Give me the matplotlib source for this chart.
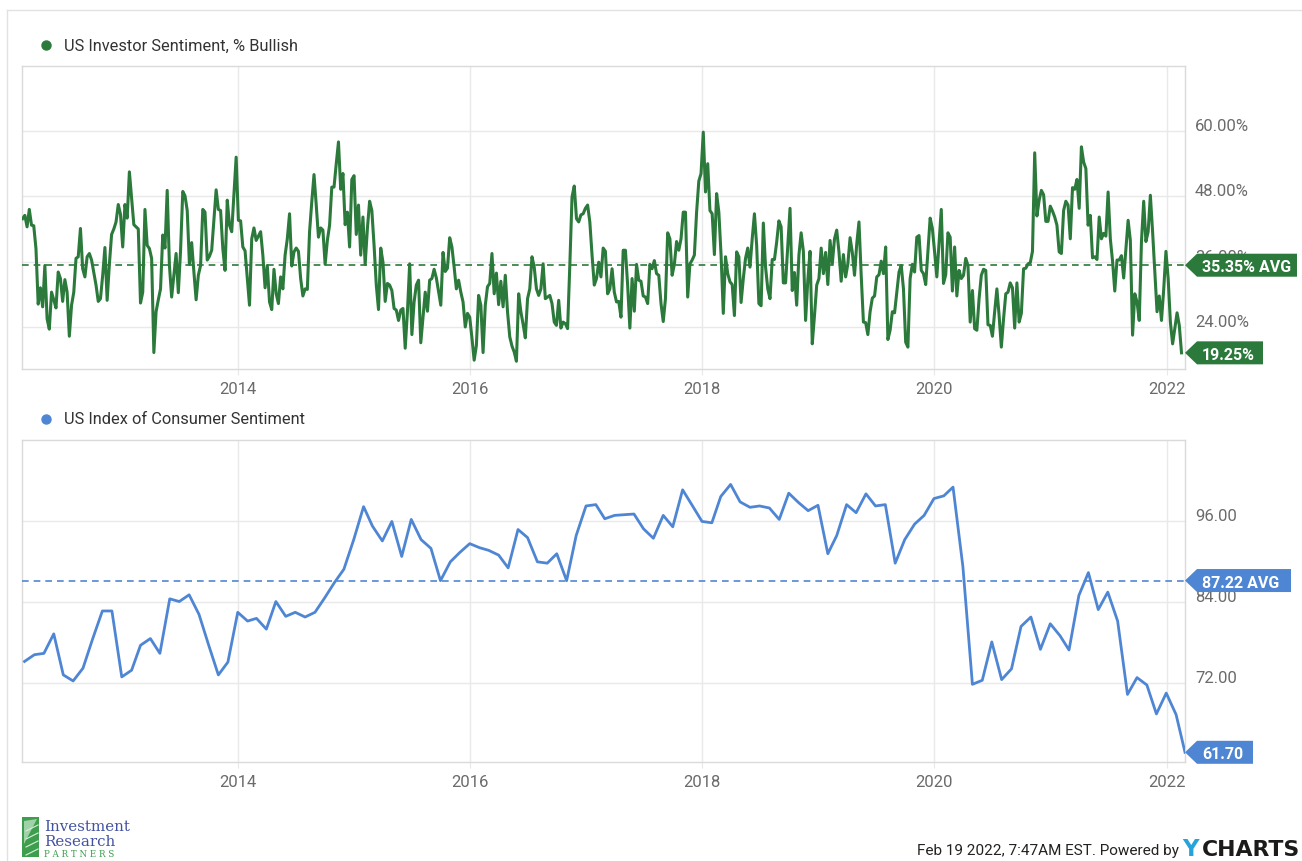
import numpy as np
import pandas as pd
import matplotlib
matplotlib.use("Agg")
import matplotlib.pyplot as plt
from matplotlib import transforms
from matplotlib.patches import Polygon, Rectangle
from matplotlib.lines import Line2D

plt.rcParams['font.family'] = ['Roboto', 'DejaVu Sans']

# ---------------- data ----------------
bullish_start = "2012-02-23"          # weekly AAII survey readings
bullish_pct = [
    43.9, 44.5, 42.4, 45.6, 42.7, 42.6, 38.4, 28.2, 31.2, 27.7,
    35.3, 25.5, 23.6, 30.4, 29.0, 27.5, 34.1, 32.9, 28.7, 32.7,
    30.4, 22.3, 28.0, 30.4, 36.6, 36.9, 42.1, 34.7, 33.2, 36.9,
    37.5, 36.3, 34.0, 31.7, 28.7, 29.2, 33.5, 38.6, 28.9, 35.5,
    41.0, 42.0, 43.3, 46.5, 44.7, 38.7, 46.5, 44.0, 52.5, 47.6,
    42.8, 42.4, 42.0, 28.4, 30.4, 45.6, 39.0, 38.4, 36.6, 19.3,
    26.8, 29.0, 31.0, 40.9, 38.5, 49.1, 35.3, 29.5, 33.5, 37.5,
    30.3, 38.0, 48.9, 48.1, 45.4, 35.5, 39.5, 34.1, 29.0, 33.5,
    35.3, 45.6, 45.1, 36.3, 37.0, 38.1, 43.6, 49.2, 45.6, 45.4,
    38.4, 34.4, 47.3, 42.7, 41.5, 48.2, 55.2, 43.6, 43.5, 38.7,
    38.0, 32.9, 28.0, 40.2, 42.2, 39.9, 40.7, 41.5, 37.2, 31.2,
    35.3, 28.6, 27.2, 34.6, 30.1, 28.3, 33.2, 31.0, 37.2, 40.2,
    44.8, 35.2, 37.8, 38.5, 37.9, 32.9, 29.7, 31.0, 30.9, 41.5,
    47.0, 52.0,
    46.4, 40.5, 42.2, 41.8, 35.5, 39.9, 42.7, 49.7, 49.7, 54.0,
    58.0, 49.3, 52.2, 42.8, 45.1, 38.7, 51.1, 51.8, 41.0, 46.4,
    37.2, 44.2, 35.5, 42.1, 47.1, 45.4, 39.0, 31.7, 27.2, 38.5,
    35.9, 28.7, 32.0, 31.7, 30.7, 27.4, 27.1, 25.2, 27.1, 27.4,
    20.1, 26.8, 35.6, 22.6, 28.6, 31.7, 32.6, 21.1, 25.8, 30.4,
    26.9, 32.6, 32.9, 34.6, 33.0, 30.5, 28.0, 37.7, 34.2, 34.8,
    40.4, 38.7, 35.0, 31.0, 32.6, 30.4, 28.6, 24.0, 26.5, 25.8,
    22.0, 17.9, 20.6, 29.8, 28.0, 19.3, 28.0, 31.4, 32.0, 37.5,
    30.1, 33.9, 28.1, 32.4, 27.7, 33.5, 26.8, 22.2, 20.5, 19.4,
    17.7, 30.1, 26.8, 24.5, 22.0, 29.2, 31.0, 36.9, 35.0, 31.0,
    29.8, 31.0, 35.6, 29.2, 29.5, 29.8, 28.3, 24.9, 24.3, 28.9,
    23.8, 24.9, 24.6, 23.7, 35.3, 47.9, 49.9, 43.9, 43.3, 44.6,
    44.8, 45.8, 46.4, 43.3, 37.2, 31.7, 32.9, 35.9, 33.2, 38.5,
    37.9, 30.1, 31.0, 34.7, 30.4, 28.6, 28.7, 25.8, 38.1, 38.1,
    31.7, 23.8, 32.9, 26.9, 35.5, 32.6, 32.4, 29.7, 29.5, 28.3,
    35.5, 34.7, 36.2, 33.8, 33.5, 28.3, 25.0, 29.2, 41.3, 40.2,
    33.5, 35.5, 39.7, 38.1, 40.2, 45.1, 45.1, 29.5, 35.6, 36.3,
    37.2, 45.1, 50.8, 52.2, 59.8, 48.8, 54.0, 45.4, 44.8, 37.3,
    48.5, 45.1, 37.2, 26.5, 36.9, 33.8, 32.3, 31.8, 26.1, 37.8,
    36.9, 28.5, 32.9, 36.6, 38.5, 35.0, 40.2, 44.8, 39.0, 28.3,
    27.9, 43.1, 35.0, 31.0, 29.2, 36.4, 36.4, 39.6, 43.5, 42.4,
    32.1, 32.1, 39.0, 45.8, 30.7, 34.0, 28.0, 37.2, 41.3, 37.9,
    25.2, 32.6, 37.9, 20.9, 26.1, 31.7, 32.9, 38.5, 33.8, 37.7,
    31.8, 39.9, 35.6, 40.2, 41.8, 37.8, 32.4, 37.3, 33.2, 35.6,
    40.4, 37.7, 33.5, 39.3, 43.3, 33.5, 24.9, 24.8, 22.6, 26.8,
    29.3, 29.7, 33.2, 33.6, 36.1, 33.8, 38.7, 21.7, 23.4, 26.8,
    26.6,
    30.4, 34.1, 35.3, 31.0, 21.2, 20.3, 32.9, 35.5, 34.1, 40.5,
    40.8, 34.4, 33.8, 31.8, 37.8, 44.0, 42.1, 37.8, 33.2, 39.5,
    45.6, 32.0, 33.6, 41.3, 40.5, 30.6, 38.7, 29.7, 34.4, 32.9,
    33.5, 36.6, 35.3, 24.9, 30.7, 23.7, 23.4, 29.2, 33.5, 34.6,
    34.4, 24.4, 24.3, 22.3, 26.8, 31.0, 26.1, 20.3, 25.5, 30.1,
    30.4, 32.1, 31.2, 23.8, 32.1, 24.9, 26.5, 34.7, 34.8, 35.6,
    35.8, 37.9, 56.0, 44.4, 47.3, 49.1, 48.3, 43.4, 43.4, 46.2,
    45.3, 44.2, 42.7, 37.8, 37.5, 45.4, 47.1, 46.4, 40.2, 49.6,
    49.3, 51.1, 45.8, 57.1, 54.3, 53.1, 42.7, 44.5, 36.7, 36.9,
    36.4, 44.2, 40.2, 41.2, 40.7, 48.8, 40.2, 36.1, 30.6, 36.3,
    36.3, 37.1, 33.0, 38.4, 43.6, 39.9, 22.5, 30.1, 28.6, 25.2,
    39.7, 47.1, 39.7, 41.5, 48.2, 41.5, 34.0, 26.8, 29.7, 25.2,
    30.9, 37.9, 32.9, 24.9, 20.9, 23.8, 26.6, 24.3, 19.25,
]
bullish_avg = 35.35

sentiment_start = "2012-02-29"        # monthly, plotted at month end
consumer_sentiment = [
    75.2, 76.2, 76.4, 79.3, 73.2, 72.3, 74.2, 78.5, 82.7, 82.7, 72.9,
    73.9, 77.6, 78.6, 76.4, 84.5, 84.1, 85.1, 82.2, 77.7, 73.2, 75.1, 82.5,
    81.2, 81.6, 80.0, 84.1, 81.9, 82.5, 81.8, 82.5, 84.6, 86.9, 88.9, 93.3,
    98.2, 95.3, 93.1, 96.0, 90.8, 96.3, 93.3, 92.0, 87.2, 90.0, 91.4, 92.7,
    92.1, 91.7, 91.0, 89.1, 94.8, 93.6, 90.0, 89.8, 91.2, 87.2, 93.9, 98.3,
    98.5, 96.4, 96.9, 97.0, 97.1, 94.9, 93.5, 96.9, 95.2, 100.7, 98.4, 96.0,
    95.8, 99.7, 101.5, 98.9, 98.1, 98.3, 98.0, 96.3, 100.2, 98.8, 97.6, 98.4,
    91.2, 93.9, 98.5, 97.3, 100.1, 98.3, 98.5, 89.8, 93.3, 95.6, 96.9, 99.4,
    99.8, 101.1, 89.3, 71.8, 72.4, 78.1, 72.5, 74.1, 80.4, 81.8, 77.0, 80.8,
    79.0, 76.9, 85.0, 88.4, 82.9, 85.5, 81.2, 70.3, 72.8, 71.7, 67.4, 70.5,
    67.3, 61.7,
]
sentiment_avg = 87.22

bullish_yticks = [24, 36, 48, 60]
sentiment_yticks = [72, 84, 96]
year_ticks = [2014, 2016, 2018, 2020, 2022]
x_range = ("2012-02-22", "2022-02-28")

bullish_title = "US Investor Sentiment, % Bullish"
sentiment_title = "US Index of Consumer Sentiment"
footer_text = "Feb 19 2022, 7:47AM EST. Powered by"

# ---------------- style ----------------
GREEN = "#2B7A3B"
BLUE = "#4F86D4"
GRID = "#e9e9e9"
FRAME = "#dadada"
TICK = "#6b6b6b"

W, H = 1302, 862
fig = plt.figure(figsize=(W / 100, H / 100), dpi=100)
fig.patch.set_facecolor("white")


def px_rect(x0, y0, x1, y1):
    return [x0 / W, 1 - y1 / H, (x1 - x0) / W, (y1 - y0) / H]


ax1 = fig.add_axes(px_rect(22.3, 67, 1185, 370))
ax2 = fig.add_axes(px_rect(22.3, 441, 1185, 763))

bull_dates = pd.date_range(bullish_start, periods=len(bullish_pct), freq="7D")
try:
    sent_dates = pd.date_range(sentiment_start, periods=len(consumer_sentiment), freq="ME")
except ValueError:
    sent_dates = pd.date_range(sentiment_start, periods=len(consumer_sentiment), freq="M")

ax1.plot(bull_dates, bullish_pct, color=GREEN, lw=2.2, solid_joinstyle="round", zorder=4)
ax1.axhline(bullish_avg, color=GREEN, lw=1.2, ls=(0, (4, 3)), zorder=3)
ax2.plot(sent_dates, consumer_sentiment, color=BLUE, lw=2.0, solid_joinstyle="round", zorder=4)
ax2.axhline(sentiment_avg, color=BLUE, lw=1.2, ls=(0, (4, 3)), zorder=3)


def style(ax, yticks, ylim, fmt):
    ax.set_xlim(pd.Timestamp(x_range[0]), pd.Timestamp(x_range[1]))
    ax.set_ylim(*ylim)
    ax.set_yticks(yticks)
    ax.set_xticks([pd.Timestamp(f"{y}-01-01") for y in year_ticks])
    ax.set_xticklabels([str(y) for y in year_ticks])
    ax.grid(True, color=GRID, lw=1)
    ax.set_axisbelow(True)
    ax.tick_params(axis="y", left=False, right=False, labelleft=False, labelright=False)
    ax.tick_params(axis="x", length=4, color=GRID, labelsize=12, labelcolor=TICK, pad=5)
    for s in ax.spines.values():
        s.set_color(FRAME)
        s.set_linewidth(1)
    lab_tr = transforms.offset_copy(ax.get_yaxis_transform(), fig=fig, x=10, y=1, units="dots")
    for v in yticks:
        ax.text(1.0, v, fmt(v), transform=lab_tr, ha="left", va="baseline",
                fontsize=12, color=TICK, clip_on=False, zorder=3)


style(ax1, bullish_yticks, (16.28, 71.95), lambda v: f"{v:.2f}%")
style(ax2, sentiment_yticks, (60.26, 108.1), lambda v: f"{v:.2f}")


def tag(ax, val, text, color, width):
    anchor = transforms.ScaledTranslation(1.0, val, ax.get_yaxis_transform())
    tr = transforms.Affine2D().scale(fig.dpi / 100.0) + anchor
    h = 11.5
    verts = [(0, 0), (12, h), (12 + width, h), (12 + width, -h), (12, -h)]
    ax.add_artist(Polygon(verts, closed=True, transform=tr, facecolor=color,
                          edgecolor="none", clip_on=False, zorder=8))
    ax.text(1.0, val, text,
            transform=transforms.offset_copy(ax.get_yaxis_transform(), fig=fig, x=17, y=0, units="dots"),
            ha="left", va="center_baseline", color="white", fontsize=11.5,
            fontweight="bold", clip_on=False, zorder=9)


tag(ax1, bullish_avg, f"{bullish_avg:.2f}% AVG", GREEN, 100)
tag(ax1, bullish_pct[-1], f"{bullish_pct[-1]:.2f}%", GREEN, 66)
tag(ax2, sentiment_avg, f"{sentiment_avg:.2f} AVG", BLUE, 94)
tag(ax2, consumer_sentiment[-1], f"{consumer_sentiment[-1]:.2f}", BLUE, 56)

# legends
for y, col, title in [(46, GREEN, bullish_title), (420, BLUE, sentiment_title)]:
    fig.add_artist(Line2D([46 / W], [1 - y / H], marker="o", markersize=6.5, color=col,
                          lw=0, transform=fig.transFigure))
    fig.text(64 / W, 1 - y / H, title, ha="left", va="center", fontsize=11.8, color="#333333")

# outer frame
fig.add_artist(Line2D([7 / W, 1.0], [1 - 11 / H, 1 - 11 / H], color="#e2e2e2", lw=1,
                      transform=fig.transFigure))
fig.add_artist(Line2D([7 / W, 7 / W], [1 - 11 / H, 0.0], color="#e2e2e2", lw=1,
                      transform=fig.transFigure))

# footer
fig.text(1179 / W, 1 - 851 / H, footer_text, ha="right", va="center", fontsize=11, color="#222222")
fig.text(1182 / W, 1 - 850 / H, "Y", ha="left", va="center", fontsize=16.5, color="#27A3DB",
         fontweight="bold", family="DejaVu Sans")
fig.text(1202 / W, 1 - 850 / H, "CHARTS", ha="left", va="center", fontsize=15.8, color="#1b1b1b",
         fontweight="bold", family="DejaVu Sans")

# logo
fig.add_artist(Rectangle((22 / W, 1 - 858 / H), 17 / W, 40 / H, transform=fig.transFigure,
                         facecolor="#3E9E4E", edgecolor="none"))
fig.add_artist(Polygon([(24 / W, 1 - 822 / H), (37 / W, 1 - 820 / H), (24 / W, 1 - 845 / H)],
                       closed=True, transform=fig.transFigure, facecolor="#9fd2a6", edgecolor="none"))
for k in range(4):
    yy = 826 + k * 8
    fig.add_artist(Line2D([26 / W, 38 / W], [1 - (yy + 6) / H, 1 - yy / H], color="#d9efdc", lw=0.8,
                          transform=fig.transFigure))
fig.text(44 / W, 1 - 831 / H, "Investment", ha="left", va="baseline", fontsize=10.8,
         color="#4352A0", family="DejaVu Serif")
fig.text(44 / W, 1 - 846 / H, "Research", ha="left", va="baseline", fontsize=10.8,
         color="#4352A0", family="DejaVu Serif")
fig.text(44 / W, 1 - 857 / H, "P A R T N E R S", ha="left", va="baseline", fontsize=6.3,
         color="#3E9E4E", family="DejaVu Serif")

fig.savefig("out.png", dpi=100, facecolor="white")
